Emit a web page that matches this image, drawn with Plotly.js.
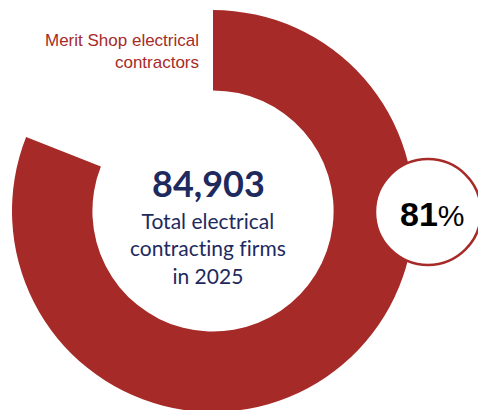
<!DOCTYPE html>
<html>
<head>
<meta charset="utf-8">
<script src="https://cdn.plot.ly/plotly-3.0.1.min.js"></script>
<style>
html,body{margin:0;padding:0;background:#fff;overflow:hidden;}
#chart{width:478px;height:414px;}
text, tspan{font-variant-ligatures:none !important;font-feature-settings:"liga" 0, "clig" 0, "dlig" 0 !important;}
</style>
</head>
<body>
<div id="chart"></div>
<script>
const categories = ["Merit Shop electrical contractors", "Other electrical contractors"];
const shares = [81, 19];
const totalFirms = 84903;
const totalLabel = ["Total electrical", "contracting firms", "in 2025"];

const RED = "#A62B28";
const NAVY = "#1E2A5E";
const H = 414;

const trace = {
  type: "pie",
  labels: categories,
  values: shares,
  hole: 0.6,
  sort: false,
  direction: "clockwise",
  rotation: 0,
  textinfo: "none",
  hoverinfo: "label+percent",
  marker: { colors: [RED, "rgba(255,255,255,0)"], line: { width: 0 } },
  domain: { x: [12/478, 414/478], y: [2/H, 404/H] },
  showlegend: false
};

const layout = {
  width: 478, height: H,
  margin: { l: 0, r: 0, t: 0, b: 0 },
  paper_bgcolor: "#fff",
  showlegend: false,
  shapes: [{
    type: "circle", xref: "paper", yref: "paper",
    x0: 375/478, x1: 481/478, y0: 1 - 265/H, y1: 1 - 159/H,
    fillcolor: "#fff", line: { color: RED, width: 2.5 }, layer: "above"
  }],
  annotations: [
    {
      text: categories[0].replace("electrical ", "electrical<br>"),
      xref: "paper", yref: "paper", x: 201/478, y: 1 - 29/H,
      xanchor: "right", yanchor: "top", align: "right", showarrow: false,
      font: { family: "Liberation Sans, Arial, sans-serif", size: 17, color: RED }
    },
    {
      text: "<b>" + totalFirms.toLocaleString("en-US") + "</b>",
      xref: "paper", yref: "paper", x: 208/478, y: 1 - 183/H,
      xanchor: "center", yanchor: "middle", showarrow: false,
      font: { family: "Lato, sans-serif", size: 36, color: NAVY }
    },
    {
      text: totalLabel.join("<br>"),
      xref: "paper", yref: "paper", x: 208/478, y: 1 - 248/H,
      xanchor: "center", yanchor: "middle", align: "center", showarrow: false,
      font: { family: "Lato, sans-serif", size: 21, color: NAVY }
    },
    {
      text: "<b>" + shares[0] + "</b><span style='font-size:30px'>%</span>",
      xref: "paper", yref: "paper", x: 432/478, y: 1 - 214/H,
      xanchor: "center", yanchor: "middle", showarrow: false,
      font: { family: "Liberation Sans, Arial, sans-serif", size: 34, color: "#000" }
    }
  ]
};

Plotly.newPlot("chart", [trace], layout, { displayModeBar: false, staticPlot: true });
</script>
</body>
</html>
